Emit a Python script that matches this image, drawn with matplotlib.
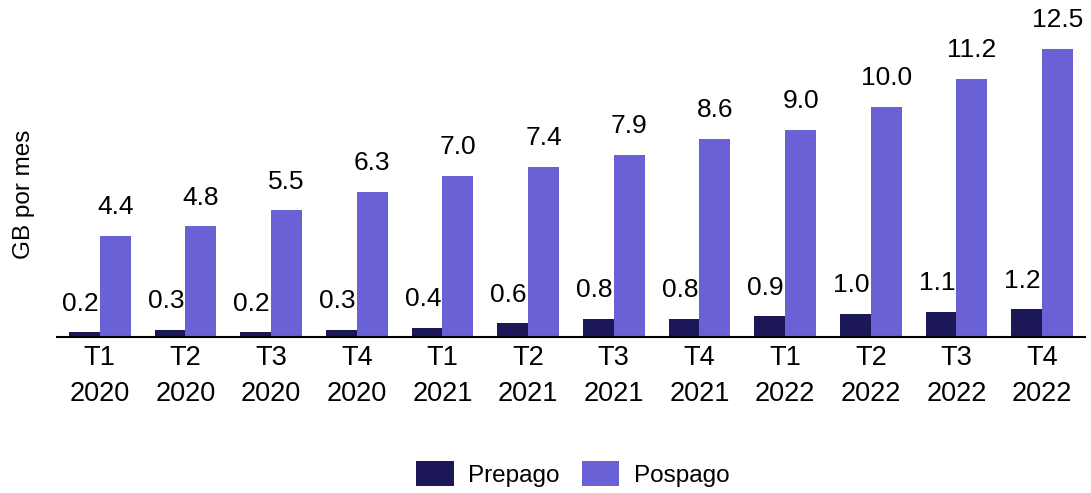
import matplotlib.pyplot as plt
import numpy as np

plt.rcParams['font.family'] = ['Liberation Sans', 'DejaVu Sans']

trimestres = ['T1\n2020', 'T2\n2020', 'T3\n2020', 'T4\n2020',
              'T1\n2021', 'T2\n2021', 'T3\n2021', 'T4\n2021',
              'T1\n2022', 'T2\n2022', 'T3\n2022', 'T4\n2022']
prepago = [0.2, 0.3, 0.2, 0.3, 0.4, 0.6, 0.8, 0.8, 0.9, 1.0, 1.1, 1.2]
pospago = [4.4, 4.8, 5.5, 6.3, 7.0, 7.4, 7.9, 8.6, 9.0, 10.0, 11.2, 12.5]

col_pre = '#1c1858'
col_pos = '#6a62d4'

fig = plt.figure(figsize=(10.91, 4.93), dpi=100)
ax = fig.add_axes([0.0522, 0.3164, 0.9423, 0.6836])

x = np.arange(len(trimestres))
w = 0.36
b1 = ax.bar(x - w / 2, prepago, w, color=col_pre, label='Prepago')
b2 = ax.bar(x + w / 2, pospago, w, color=col_pos, label='Pospago')

# etiquetas de valor; las de prepago un poco a la izquierda
for bars, vals, dx in ((b1, prepago, -3), (b2, pospago, 0)):
    for r, v in zip(bars, vals):
        ax.annotate(f'{v:.1f}', (r.get_x() + r.get_width() / 2, v),
                    xytext=(dx, 12), textcoords='offset points',
                    ha='center', va='bottom', fontsize=19)

ax.set_xlim(-0.5, 11.5)
ax.set_ylim(0, 14.63)
ax.set_xticks(x)
ax.set_xticklabels(trimestres, fontsize=19.5, linespacing=1.5)
ax.tick_params(axis='x', length=0, pad=6)
ax.set_yticks([])
for s in ['top', 'right', 'left']:
    ax.spines[s].set_visible(False)
ax.spines['bottom'].set_linewidth(1.5)
ax.set_ylabel('GB por mes', fontsize=17.5, labelpad=0)
ax.yaxis.set_label_coords(-0.021, 0.424)

fig.legend(handles=[b1, b2], loc='lower center', bbox_to_anchor=(0.525, -0.032),
           ncol=2, frameon=False, fontsize=17.5, handlelength=1.55, handleheight=1.2,
           columnspacing=0.9, handletextpad=0.6)

fig.savefig('out.png', dpi=100)
